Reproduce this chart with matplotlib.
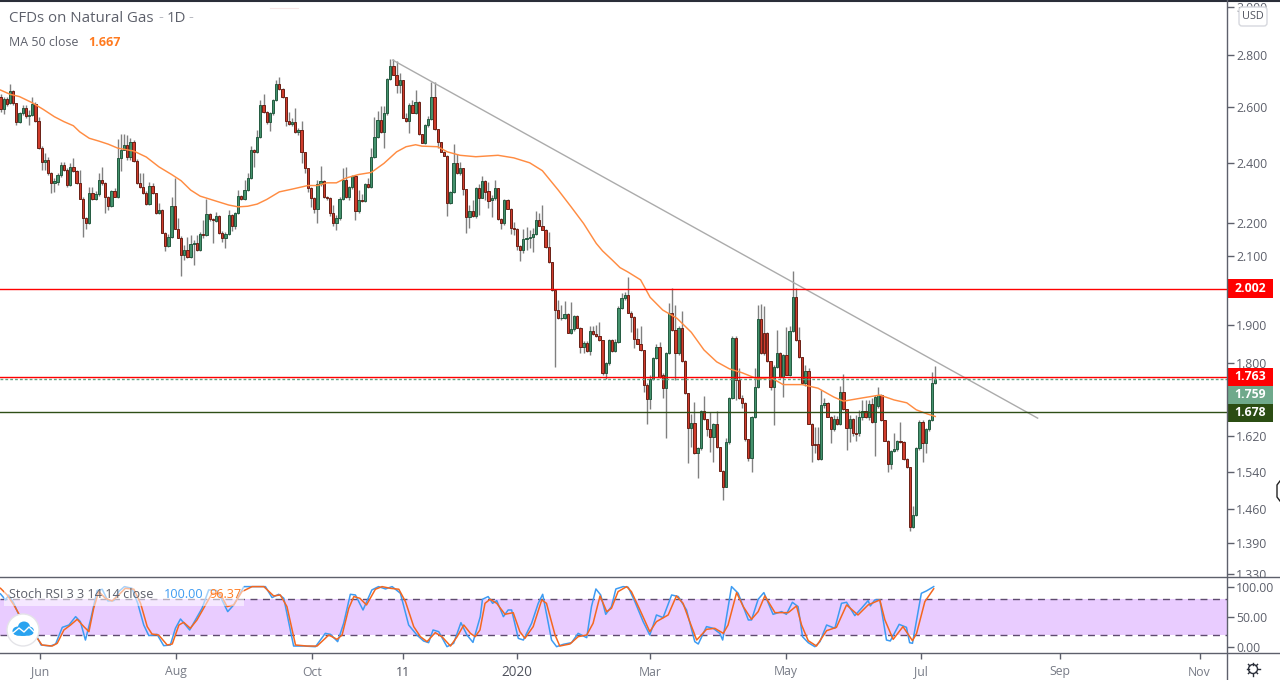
import numpy as np
import matplotlib
matplotlib.use('Agg')
import matplotlib.pyplot as plt
from matplotlib.lines import Line2D
from matplotlib.patches import Rectangle, Circle, Ellipse, FancyBboxPatch

plt.rcParams['font.family'] = ['Open Sans', 'DejaVu Sans']

opens = [
    2.638,2.590,2.628,2.613,2.658,2.613,2.545,2.575,2.597,2.566,
    2.571,2.609,2.548,2.451,2.402,2.410,2.363,2.329,2.334,2.356,
    2.393,2.376,2.324,2.385,2.372,2.332,2.279,2.215,2.199,2.298,
    2.279,2.294,2.342,2.329,2.283,2.256,2.304,2.285,2.414,2.445,
    2.460,2.419,2.471,2.406,2.329,2.316,2.298,2.261,2.322,2.296,
    2.233,2.241,2.169,2.130,2.156,2.255,2.183,2.155,2.103,2.116,
    2.097,2.134,2.137,2.118,2.167,2.163,2.229,2.212,2.208,2.222,
    2.169,2.155,2.166,2.225,2.192,2.231,2.287,2.278,2.307,2.346,
    2.443,2.435,2.488,2.606,2.581,2.542,2.575,2.625,2.688,2.666,
    2.635,2.548,2.535,2.542,2.506,2.514,2.435,2.380,2.313,2.281,
    2.244,2.326,2.338,2.285,2.281,2.231,2.199,2.215,2.279,2.340,
    2.285,2.316,2.353,2.238,2.274,2.272,2.326,2.316,2.419,2.490,
    2.551,2.508,2.575,2.704,2.755,2.723,2.684,2.700,2.559,2.548,
    2.605,2.577,2.619,2.499,2.469,2.531,2.553,2.635,2.517,2.471,
    2.437,2.424,2.263,2.299,2.397,2.363,2.380,2.309,2.218,2.238,
    2.222,2.313,2.281,2.336,2.303,2.273,2.281,2.313,2.214,2.199,
    2.273,2.246,2.185,2.183,2.130,2.118,2.152,2.155,2.156,2.167,
    2.209,2.192,2.180,2.125,2.080,1.999,1.941,1.919,1.920,1.930,
    1.880,1.889,1.925,1.894,1.841,1.853,1.832,1.885,1.877,1.872,
    1.860,1.775,1.799,1.860,1.832,1.854,1.947,1.975,1.984,1.935,
    1.923,1.862,1.851,1.833,1.745,1.709,1.760,1.812,1.841,1.769,
    1.736,1.826,1.933,1.887,1.826,1.893,1.806,1.723,1.639,1.652,
    1.581,1.593,1.679,1.660,1.637,1.618,1.648,1.595,1.542,1.507,
    1.606,1.711,1.867,1.756,1.711,1.700,1.614,1.570,1.665,1.740,
    1.918,1.878,1.878,1.804,1.738,1.790,1.827,1.763,1.820,1.770,
    1.884,1.979,1.860,1.815,1.748,1.780,1.650,1.602,1.602,1.568,
    1.695,1.700,1.666,1.637,1.662,1.650,1.726,1.685,1.639,1.662,
    1.627,1.627,1.665,1.679,1.666,1.697,1.654,1.692,1.720,1.658,
    1.610,1.556,1.587,1.591,1.610,1.608,1.568,1.550,1.423,1.447,
    1.593,1.655,1.604,1.637,1.658,1.748]
closes = [
    2.590,2.628,2.610,2.658,2.613,2.545,2.575,2.597,2.566,2.571,
    2.609,2.548,2.451,2.402,2.410,2.363,2.329,2.337,2.356,2.393,
    2.374,2.324,2.385,2.372,2.332,2.279,2.215,2.199,2.298,2.279,
    2.294,2.342,2.329,2.283,2.256,2.304,2.285,2.414,2.445,2.460,
    2.419,2.471,2.406,2.329,2.316,2.298,2.261,2.322,2.296,2.233,
    2.241,2.169,2.130,2.156,2.255,2.183,2.155,2.103,2.116,2.097,
    2.134,2.137,2.118,2.167,2.164,2.229,2.212,2.209,2.222,2.169,
    2.155,2.166,2.225,2.192,2.231,2.287,2.278,2.307,2.346,2.443,
    2.435,2.488,2.606,2.581,2.542,2.575,2.625,2.688,2.666,2.635,
    2.548,2.535,2.542,2.506,2.513,2.435,2.380,2.313,2.281,2.244,
    2.326,2.338,2.285,2.281,2.231,2.199,2.215,2.279,2.340,2.283,
    2.316,2.353,2.238,2.274,2.272,2.326,2.316,2.419,2.490,2.551,
    2.508,2.575,2.704,2.755,2.723,2.684,2.700,2.559,2.548,2.605,
    2.577,2.619,2.499,2.469,2.531,2.553,2.635,2.517,2.471,2.437,
    2.424,2.263,2.299,2.397,2.363,2.380,2.309,2.218,2.238,2.222,
    2.313,2.281,2.336,2.299,2.272,2.281,2.313,2.214,2.199,2.273,
    2.246,2.185,2.183,2.130,2.118,2.152,2.155,2.157,2.167,2.209,
    2.192,2.180,2.125,2.080,1.999,1.941,1.919,1.921,1.930,1.880,
    1.889,1.925,1.894,1.841,1.853,1.832,1.885,1.877,1.872,1.860,
    1.775,1.799,1.860,1.832,1.854,1.947,1.975,1.984,1.935,1.923,
    1.862,1.851,1.833,1.745,1.709,1.760,1.812,1.841,1.763,1.736,
    1.826,1.933,1.887,1.826,1.893,1.806,1.723,1.639,1.652,1.581,
    1.593,1.679,1.660,1.637,1.618,1.648,1.595,1.542,1.507,1.606,
    1.711,1.867,1.756,1.711,1.700,1.614,1.570,1.665,1.740,1.918,
    1.826,1.826,1.804,1.738,1.790,1.827,1.763,1.820,1.770,1.884,
    1.979,1.860,1.815,1.748,1.780,1.650,1.600,1.600,1.568,1.695,
    1.700,1.666,1.637,1.662,1.650,1.726,1.685,1.639,1.662,1.627,
    1.626,1.665,1.679,1.666,1.697,1.654,1.715,1.720,1.658,1.610,
    1.556,1.587,1.591,1.610,1.608,1.568,1.550,1.423,1.447,1.593,
    1.655,1.604,1.637,1.658,1.748,1.759]
highs = [
    2.648,2.635,2.636,2.688,2.663,2.614,2.580,2.606,2.606,2.587,
    2.635,2.619,2.563,2.457,2.432,2.418,2.367,2.347,2.363,2.402,
    2.402,2.381,2.400,2.414,2.374,2.374,2.283,2.219,2.318,2.318,
    2.304,2.363,2.383,2.333,2.287,2.307,2.314,2.481,2.502,2.502,
    2.496,2.486,2.479,2.411,2.363,2.363,2.304,2.334,2.329,2.298,
    2.263,2.245,2.171,2.167,2.285,2.346,2.215,2.159,2.132,2.158,
    2.163,2.147,2.163,2.172,2.210,2.276,2.232,2.216,2.236,2.226,
    2.175,2.172,2.242,2.229,2.236,2.307,2.290,2.340,2.363,2.457,
    2.446,2.514,2.625,2.648,2.584,2.580,2.629,2.701,2.713,2.671,
    2.636,2.581,2.558,2.597,2.521,2.547,2.437,2.381,2.317,2.284,
    2.340,2.387,2.340,2.287,2.284,2.258,2.226,2.284,2.380,2.383,
    2.320,2.357,2.357,2.307,2.294,2.330,2.347,2.449,2.563,2.585,
    2.602,2.602,2.709,2.783,2.783,2.776,2.727,2.701,2.576,2.613,
    2.625,2.663,2.621,2.500,2.536,2.565,2.695,2.695,2.518,2.472,
    2.439,2.425,2.304,2.464,2.429,2.401,2.381,2.310,2.258,2.274,
    2.317,2.327,2.355,2.340,2.333,2.290,2.340,2.314,2.216,2.277,
    2.276,2.248,2.204,2.184,2.132,2.183,2.188,2.178,2.184,2.239,
    2.231,2.258,2.181,2.173,2.081,1.999,1.970,1.956,1.968,1.934,
    1.965,1.928,1.928,1.895,1.857,1.857,1.898,1.898,1.900,1.909,
    1.860,1.803,1.862,1.862,1.862,1.953,1.991,1.994,2.037,1.940,
    1.925,1.892,1.899,1.834,1.748,1.769,1.816,1.851,1.856,1.774,
    1.829,1.962,2.004,1.956,1.898,1.940,1.808,1.724,1.673,1.703,
    1.596,1.683,1.717,1.661,1.678,1.651,1.679,1.596,1.544,1.616,
    1.714,1.871,1.871,1.786,1.719,1.702,1.614,1.668,1.786,1.956,
    1.958,1.953,1.882,1.805,1.795,1.887,1.829,1.824,1.896,1.898,
    2.054,2.004,1.896,1.816,1.795,1.786,1.651,1.642,1.642,1.732,
    1.712,1.702,1.668,1.670,1.668,1.742,1.772,1.685,1.670,1.663,
    1.670,1.683,1.707,1.707,1.707,1.712,1.719,1.738,1.722,1.658,
    1.612,1.589,1.629,1.612,1.654,1.610,1.570,1.551,1.466,1.596,
    1.658,1.658,1.640,1.661,1.777,1.791]
lows = [
    2.580,2.572,2.602,2.610,2.606,2.533,2.540,2.569,2.558,2.533,
    2.565,2.544,2.447,2.374,2.374,2.357,2.298,2.301,2.324,2.350,
    2.371,2.318,2.320,2.367,2.327,2.277,2.158,2.183,2.197,2.274,
    2.274,2.287,2.324,2.233,2.242,2.252,2.284,2.281,2.371,2.443,
    2.408,2.408,2.401,2.327,2.314,2.294,2.258,2.258,2.294,2.229,
    2.229,2.168,2.115,2.125,2.153,2.181,2.153,2.040,2.087,2.093,
    2.093,2.072,2.114,2.114,2.153,2.159,2.207,2.139,2.204,2.166,
    2.142,2.124,2.163,2.176,2.181,2.229,2.274,2.274,2.304,2.343,
    2.385,2.432,2.486,2.577,2.536,2.511,2.569,2.621,2.663,2.632,
    2.529,2.533,2.529,2.504,2.497,2.398,2.364,2.300,2.252,2.232,
    2.201,2.320,2.281,2.274,2.223,2.191,2.178,2.210,2.274,2.281,
    2.274,2.310,2.210,2.232,2.268,2.268,2.314,2.314,2.414,2.486,
    2.505,2.451,2.569,2.701,2.720,2.652,2.652,2.558,2.544,2.505,
    2.576,2.573,2.497,2.468,2.464,2.525,2.551,2.514,2.450,2.436,
    2.422,2.224,2.261,2.297,2.360,2.357,2.290,2.169,2.185,2.219,
    2.216,2.226,2.281,2.274,2.248,2.220,2.274,2.210,2.183,2.194,
    2.245,2.167,2.163,2.117,2.085,2.107,2.117,2.123,2.110,2.163,
    2.191,2.178,2.123,2.078,1.996,1.790,1.917,1.914,1.917,1.879,
    1.876,1.884,1.892,1.825,1.825,1.829,1.821,1.873,1.868,1.857,
    1.769,1.760,1.795,1.829,1.829,1.852,1.945,1.970,1.934,1.882,
    1.839,1.849,1.831,1.727,1.650,1.685,1.756,1.811,1.761,1.711,
    1.616,1.824,1.884,1.756,1.821,1.803,1.722,1.559,1.596,1.580,
    1.526,1.589,1.658,1.621,1.585,1.562,1.593,1.542,1.479,1.507,
    1.603,1.709,1.707,1.709,1.688,1.610,1.564,1.539,1.663,1.737,
    1.824,1.821,1.803,1.732,1.646,1.787,1.761,1.715,1.769,1.767,
    1.882,1.857,1.813,1.746,1.742,1.648,1.562,1.581,1.566,1.566,
    1.688,1.665,1.605,1.632,1.646,1.646,1.683,1.589,1.607,1.621,
    1.610,1.621,1.658,1.663,1.658,1.651,1.576,1.688,1.656,1.610,
    1.540,1.545,1.585,1.587,1.605,1.566,1.548,1.415,1.420,1.445,
    1.589,1.562,1.582,1.632,1.656,1.746]

ma_bars = [0,3,6,10,13.5,17,20,23,25,28,31,34,37,42,46,50,54,57,60,63,67,72,75,78,81,84,88,92,97,100,
           103,106,109,113,117,121,125,128,131,133,138,141,145,150,157,162,167,171,176,180,184,188,190,193,
           195.5,198,202,205,209,213.5,218,222,226,230,234,239,243,247,253,258,263,266,272,277.5,282,286,289,292.5,295]
ma_values = [2.663,2.647,2.638,2.615,2.590,2.563,2.545,2.530,2.508,2.485,2.475,2.464,2.450,2.440,2.419,2.385,
             2.359,2.338,2.307,2.287,2.274,2.258,2.252,2.254,2.261,2.276,2.301,2.310,2.322,2.322,
             2.331,2.331,2.347,2.359,2.366,2.397,2.437,2.455,2.462,2.457,2.455,2.437,2.425,2.420,2.425,2.416,
             2.399,2.372,2.307,2.253,2.199,2.137,2.114,2.087,2.064,2.051,2.028,1.978,1.942,1.919,1.881,1.834,
             1.803,1.785,1.775,1.759,1.763,1.745,1.745,1.736,1.714,1.704,1.712,1.719,1.707,1.700,1.683,1.673,1.667]

k_bars = [0,1.6,2.6,4.2,5.8,7.4,9.5,11,12.8,15.8,17.4,19.5,21.6,23.7,25.2,26.8,28.4,30.5,32.1,33.9,35.8,37.3,39.1,41.5,
          43.3,45.2,46.8,49.4,51.5,53.6,55.2,56.8,58.4,59.7,61.5,63.6,65.7,68.3,69.9,71.7,73.6,76.8,79.4,83.6,85.7,87.8,
          89.4,92.5,95.7,99.4,102.5,104.1,106.4,108.3,110.4,112,114.4,117.2,119.3,121.5,123.6,126.2,128.8,131.4,133.5,
          135.1,136.5,138.3,140.9,143,145.3,147.2,149.1,151.4,152.1,153.9,155.3,156.6,158.7,160.2,161.3,163.4,165,167.6,
          169.7,171.1,173.9,175.5,177.6,180.2,182.3,185,186.5,187.9,189.4,191,192.8,194.2,196.5,198.1,200.2,202.8,204.9,
          206,207,209.1,211.8,213.9,216.5,219.1,220.2,222.8,224.9,227,227.9,230.7,232.8,236,237,239.1,240.9,243.8,246.5,
          248,249.9,251.7,253.1,254.9,257,258.6,260.7,263.3,265.4,267,269.6,271.7,273.8,274.5,275.9,277.5,279.6,280.8,
          283.6,285.9,286.9,287.8,290.6,292.2,294.5]
k_values = [87.8,77.8,86.1,72.2,52.8,44.5,30.6,22.2,2.8,1.1,4.5,32.2,36.1,50,41.7,11.1,44.5,93.4,95.6,76.1,76.7,91.7,100,97.2,
            72.2,36.1,18.4,20.6,1.7,2.8,30.6,46.1,36.1,27.8,44.5,63.9,94.5,93.4,77.8,58.4,69.5,100,100,100,81.7,87.2,
            80.6,1.1,1.1,0,22.2,20.6,8.4,39,87.2,86.1,61.1,94.5,100,96.1,100,88.9,36.1,19.5,9.5,
            6.7,27.8,25,0,5.6,40,19.5,7.2,50,78.9,83.4,72.2,76.7,50,61.1,61.1,13.9,11.1,38.9,
            72.2,87.2,11.1,0,3.9,6.7,22.2,15,66.7,96.1,86.1,53.9,66.7,96.1,100,98.9,75,41.7,19.5,
            36.1,52.8,48.4,86.1,83.4,61.1,8.4,4.5,33.4,30.6,22.2,11.1,100,88.9,44.5,44.5,78.9,90,53.9,58.4,
            53.9,73.9,66.7,16.7,6.7,0,8.4,36.1,30.6,72.2,73.9,51.7,63.9,76.7,67.8,77.8,77.8,11.1,9.5,
            37.2,32.2,6.7,5.6,88.9,92.8,100]
d_bars = [0,2.1,4.2,6.3,7.9,10.5,13.1,16.3,17.9,20,22.1,24.2,26.3,27.9,29.4,31,33.1,35.2,37.3,39.4,42.1,44.2,46.3,47.8,49.9,
          52.6,54.2,56.3,57.8,59.9,62,64.7,66.8,69.4,71.5,73.6,76.2,79.4,83.1,86.2,88.3,90.4,93.1,96.7,99.9,103.6,106.2,
          107.8,109.9,111.5,113.4,115.5,118.3,120.4,123,125.7,127.8,130.4,132.5,134.6,137.2,139.3,142,144.1,146.2,148.3,
          149.8,151.3,152.9,154.5,156.6,159.2,161.8,163.9,165.5,168.1,170.8,172.3,175,176.5,179.7,182.3,185,187,189.2,
          191.3,192.8,194.9,197.6,199.1,201.8,204.9,207,210.7,213.3,215.4,217.5,219.7,222.8,225.4,228.1,229.6,232.3,234.4,
          237,239.1,241.2,244.4,248.6,251.2,252.8,254.9,257.5,260.7,263.8,267,270.6,273.8,277.5,279.1,281.7,284.8,287.8,
          289.1,291.7,294.5]
d_values = [97.2,86.1,69.5,50,33.4,22.2,2.8,1.1,5.6,27.8,36.1,45.6,33.4,25,63.9,91.7,80.6,76.1,86.1,97.2,95.6,72.2,33.4,21.1,19.5,
            2.8,4.5,36.1,40.6,30.6,44.5,69.5,88.9,87.8,66.7,69.5,91.7,100,100,84.5,86.1,66.7,2.8,1.1,1.1,19.5,12.2,
            19.5,63.9,83.4,80.6,69.5,95.6,100,97.2,95.6,75,33.4,16.7,8.4,23.4,16.7,1.1,16.7,36.1,22.2,
            16.7,27.8,72.2,78.9,72.2,53.9,56.7,25,13.9,33.4,77.8,72.2,19.5,1.1,4.5,16.7,19.5,38.9,84.5,
            58.4,63.9,91.7,100,91.7,61.1,25,41.7,52.8,84.5,72.2,41.7,11.1,28.9,30.6,22.2,36.1,90,66.7,
            45.6,58.4,84.5,56.7,56.7,67.8,36.1,10,1.1,26.7,32.2,69.5,52.8,69.5,77.8,44.5,12.2,33.4,10,
            22.2,75,96.37]

trend_bars = [123.8, 327.3]
trend_prices = [2.780, 1.663]

price_ticks = [3.0, 2.8, 2.6, 2.4, 2.2, 2.1, 1.9, 1.8, 1.62, 1.54, 1.46, 1.39, 1.33]
stoch_ticks = [100, 50, 0]
date_bars = [12.5, 55.4, 98.3, 127, 163, 205, 247.8, 290.4, 334.2, 378.4]
date_labels = ['Jun', 'Aug', 'Oct', '11', '2020', 'Mar', 'May', 'Jul', 'Sep', 'Nov']

W, H = 1280, 680
GREEN, GREEN_EDGE = '#44926d', '#245a40'
RED, RED_EDGE = '#d03c2c', '#6a2016'
TXT = '#5d606b'


def rect(left, top, right, bottom):
    return [left / W, 1 - bottom / H, (right - left) / W, (bottom - top) / H]


fig = plt.figure(figsize=(W / 100, H / 100), dpi=100)
ax = fig.add_axes(rect(0, 1, 1226.5, 577))
ax2 = fig.add_axes(rect(0, 577, 1226.5, 653), sharex=ax)

idx = np.arange(len(closes))
o = np.array(opens)
c = np.array(closes)
up = c >= o

# candles
ax.vlines(idx, lows, highs, color='#808080', linewidth=1, zorder=2)
ax.bar(idx[up], (c - o)[up], bottom=o[up], width=0.72, color=GREEN, edgecolor=GREEN_EDGE, linewidth=0.7, zorder=3)
ax.bar(idx[~up], (o - c)[~up], bottom=c[~up], width=0.72, color=RED, edgecolor=RED_EDGE, linewidth=0.7, zorder=3)

ax.plot(ma_bars, ma_values, color='#ff8c42', linewidth=1.05, zorder=4)
ax.plot(trend_bars, trend_prices, color='#ababab', linewidth=1.0, zorder=4)
ax.axhline(2.002, color='#ff0000', linewidth=1.0, zorder=5)
ax.axhline(1.763, color='#ff0000', linewidth=1.0, zorder=5)
ax.axhline(1.759, color='#5ea684', linewidth=1.0, linestyle=(0, (2, 1.5)), zorder=4)
ax.axhline(1.678, color='#2f4f17', linewidth=1.0, zorder=5)

ax.set_yscale('log')
ax.set_ylim(1.324, 3.026)
ax.set_xlim(-0.16, 386.9)
ax.set_yticks(price_ticks)
ax.set_yticklabels(['%.3f' % p for p in price_ticks])
ax.minorticks_off()
ax.yaxis.tick_right()
ax.tick_params(axis='y', which='major', length=5, width=1, color='#5d606b', labelcolor=TXT, labelsize=8.8, pad=2)
ax.tick_params(axis='x', length=0, labelbottom=False)
clip = Rectangle((0, 1 - 577 / H), 1, (577 - 1) / H, transform=fig.transFigure)
for lab in ax.get_yticklabels():
    lab.set_clip_on(True)
    lab.set_clip_path(clip)

# stoch pane
ax2.axhspan(20, 80, color='#e9ccff', linewidth=0, zorder=1)
ax2.axhline(80, color='#5f4b70', linewidth=1, linestyle=(0, (5, 4)), zorder=2)
ax2.axhline(20, color='#5f4b70', linewidth=1, linestyle=(0, (5, 4)), zorder=2)
ax2.plot(k_bars, k_values, color='#3d9bf2', linewidth=1.1, zorder=3)
ax2.plot(d_bars, d_values, color='#f4671f', linewidth=1.1, zorder=4)
ax2.set_ylim(-10.5, 116)
ax2.set_yticks(stoch_ticks)
ax2.set_yticklabels(['%.2f' % s for s in stoch_ticks])
ax2.yaxis.tick_right()
ax2.tick_params(axis='y', length=5, width=1, color='#5d606b', labelcolor=TXT, labelsize=8.8, pad=2)
ax2.set_xticks(date_bars)
ax2.set_xticklabels(date_labels)
ax2.tick_params(axis='x', length=4, width=1, color='#5d606b', labelcolor='#777b86', labelsize=8.8, pad=5)
for lab in ax2.get_xticklabels():
    if lab.get_text() == '2020':
        lab.set_color('#50535e')
        lab.set_fontsize(9.8)
    if lab.get_text() == '11':
        lab.set_color('#50535e')

for a in (ax, ax2):
    for s in ('left', 'top', 'bottom', 'right'):
        a.spines[s].set_visible(False)

# pixel overlay for the frame, labels and price tags
ov = fig.add_axes([0, 0, 1, 1], facecolor='none')
ov.set_xlim(0, W)
ov.set_ylim(H, 0)
ov.axis('off')
ov.add_line(Line2D([0, W], [0.5, 0.5], color='#2a2e39', linewidth=1.5))
ov.add_line(Line2D([0, W], [577, 577], color='#5d606b', linewidth=1))
ov.add_line(Line2D([0, W], [653, 653], color='#5d606b', linewidth=1))
ov.add_line(Line2D([1226.5, 1226.5], [0, H], color='#5d606b', linewidth=1))
ov.add_line(Line2D([270, 298], [8, 8], color='#f6e6e6', linewidth=0.8))

tags = [('2.002', '#ff0000', 279, 297.5), ('1.763', '#ff0000', 367.5, 386),
        ('1.759', '#6fa98b', 386, 403.5), ('1.678', '#2b4d13', 403.5, 422)]
for txt, col, y0, y1 in tags:
    ov.add_patch(Rectangle((1227, y0), 46, y1 - y0, facecolor=col, edgecolor='none'))
    ov.text(1250, (y0 + y1) / 2, txt, color='white', fontsize=8.8, fontweight='bold', ha='center', va='center')

ov.add_patch(FancyBboxPatch((1240, 8), 26, 17, boxstyle='round,pad=1,rounding_size=3',
                            facecolor='white', edgecolor='#d6d8de', linewidth=1))
ov.text(1253, 16.5, 'USD', color='#50535e', fontsize=7.8, ha='center', va='center')

ov.text(9, 18, 'CFDs on Natural Gas', color='#5d606b', fontsize=10.8, va='center')
ov.text(158, 18, '-', color='#b9bbc2', fontsize=10.8, va='center')
ov.text(167, 18, '1D', color='#5d606b', fontsize=10.8, va='center')
ov.text(188, 18, '-', color='#b9bbc2', fontsize=10.8, va='center')
ov.text(9, 42, 'MA 50 close', color='#5d606b', fontsize=8.9, va='center')
ov.text(88.5, 42, '1.667', color='#ff7a1f', fontsize=9, fontweight='bold', va='center')

ov.add_patch(Rectangle((4, 583), 240, 23, facecolor='white', edgecolor='none', alpha=0.55))
ov.text(9, 594.5, 'Stoch RSI 3 3 14 14 close', color='#5d606b', fontsize=9.1, va='center')
ov.text(164, 594.5, '100.00', color='#3d9bf2', fontsize=9.1, va='center')
ov.text(209, 594.5, '96.37', color='#ff7a1f', fontsize=9.1, va='center')

# logo
ov.add_patch(Circle((23, 630), 16, facecolor='white', edgecolor='#e4e4e8', linewidth=1))
for ex, ey, ew, eh in [(18, 631, 11, 9), (24, 627, 12, 11), (29, 631, 10, 9), (23, 633, 19, 6)]:
    ov.add_patch(Ellipse((ex, ey), ew, eh, facecolor='#2aa3f0', edgecolor='none'))
ov.add_line(Line2D([13, 19, 24, 29, 34], [633, 628, 632, 627, 632], color='white', linewidth=1))

# settings icon
ov.add_patch(Circle((1253, 669), 4.5, facecolor='white', edgecolor='#2a2e39', linewidth=1))
for sx, sy in [(0, 1), (1, 0), (0.7, 0.7), (0.7, -0.7)]:
    ov.add_line(Line2D([1253 - 6.5 * sx, 1253 - 4.5 * sx], [669 - 6.5 * sy, 669 - 4.5 * sy], color='#2a2e39', linewidth=1))
    ov.add_line(Line2D([1253 + 4.5 * sx, 1253 + 6.5 * sx], [669 + 4.5 * sy, 669 + 6.5 * sy], color='#2a2e39', linewidth=1))

# resize cursor at the right edge
ov.add_line(Line2D([1280, 1277, 1277, 1280], [481, 485, 497, 501], color='#222222', linewidth=1))

fig.savefig('out.png', dpi=100)
